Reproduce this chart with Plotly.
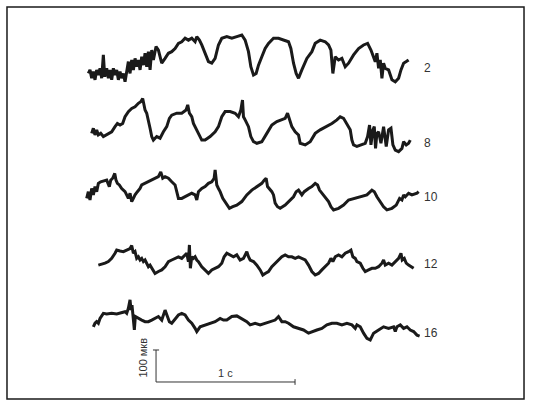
import plotly.graph_objects as go

# EEG traces, time in ms, amplitude in uV
t_2 = [-12, 0, 12, 24, 36, 48, 60, 72, 84, 96, 106, 120, 132, 144, 156, 168, 180, 192, 204, 216,
       228, 240, 252, 264, 276, 288, 300, 312, 324, 336, 348, 360, 372, 384, 396, 408, 420, 432, 444, 456,
       475, 492, 504, 516, 540, 564, 588, 612, 636, 660, 684, 708, 732, 756, 768, 787, 804, 828, 852, 876,
       900, 924, 948, 984, 1020, 1056, 1092, 1116, 1140, 1157, 1176, 1195, 1212, 1236, 1260, 1284, 1320, 1356, 1392, 1428,
       1445, 1464, 1483, 1500, 1524, 1560, 1596, 1620, 1656, 1692, 1716, 1733, 1747, 1764, 1788, 1812, 1836, 1860, 1896, 1932,
       1968, 1997, 2021, 2040, 2052, 2064, 2076, 2088, 2100, 2112, 2124, 2148, 2172, 2196, 2220, 2237, 2256, 2275, 2292]
uv_2 = [-42, -31, -57, -36, -62, -31, -47, -26, -57, 16, -52, -26, -57, -31, -62, -26, -47, -31, -62, -36,
        -57, -42, -68, -31, -5, -42, 0, -31, 5, -21, 0, -31, 10, -16, 21, -21, 26, -31, 31, 0,
        42, 31, 10, -10, 5, 21, 26, 36, 52, 57, 68, 62, 68, 57, 73, 62, 47, 21, -5, -10,
        5, 47, 68, 73, 68, 73, 78, 62, 26, -21, -47, -42, -16, 10, 36, 52, 68, 68, 62, 57,
        36, -10, -42, -57, -31, 5, 26, 52, 62, 57, 47, 31, -42, 10, 0, 5, -21, -10, 16, 36,
        47, 52, 31, 10, -5, 21, -26, 0, -57, -10, -26, -31, -62, -68, -57, -31, -10, -5, 0]

t_8 = [12, 24, 36, 48, 60, 77, 96, 120, 156, 180, 197, 216, 235, 252, 276, 300, 324, 348, 365, 379,
       389, 396, 408, 420, 432, 444, 456, 480, 504, 528, 552, 571, 588, 624, 660, 691, 703, 715, 732, 744,
       763, 780, 804, 828, 864, 900, 924, 948, 972, 1008, 1044, 1068, 1085, 1097, 1104, 1116, 1140, 1157, 1176, 1200,
       1236, 1272, 1308, 1344, 1380, 1404, 1421, 1435, 1452, 1476, 1500, 1512, 1548, 1584, 1620, 1656, 1704, 1740, 1776, 1800,
       1824, 1848, 1872, 1884, 1896, 1920, 1956, 1980, 1997, 2011, 2021, 2035, 2045, 2054, 2064, 2076, 2093, 2112, 2131, 2148,
       2165, 2179, 2196, 2220, 2244, 2256, 2275, 2292, 2304]
uv_8 = [-21, -5, -26, -10, -26, -21, -31, -26, -16, 0, 10, 5, 10, 31, 47, 57, 62, 73, 78, 88,
        68, 52, 42, 21, -5, -31, -42, -31, -36, -16, 0, 26, 36, 42, 42, 52, 68, 42, 31, 10,
        -5, -21, -42, -42, -31, -16, 0, 31, 47, 47, 42, 31, 52, 83, 31, 21, 0, -31, -47, -52,
        -47, -21, 5, 16, 21, 26, 42, 21, 0, -16, -26, -52, -57, -47, -21, -10, 0, 10, 21, 31,
        26, 10, -10, -42, -57, -62, -57, -52, -31, 5, -57, -10, 0, -68, -21, -16, -52, 0, -62, -10,
        -5, -57, -73, -78, -68, -47, -57, -52, -42]

t_10 = [-24, -12, 0, 12, 24, 36, 48, 60, 77, 96, 120, 139, 149, 163, 178, 187, 197, 211, 228, 252,
        264, 276, 288, 300, 312, 324, 341, 360, 372, 396, 420, 444, 468, 492, 509, 523, 540, 564, 588, 612,
        624, 636, 660, 684, 708, 732, 756, 768, 780, 804, 828, 852, 876, 893, 900, 912, 924, 936, 955, 979,
        1003, 1027, 1056, 1092, 1128, 1164, 1200, 1236, 1253, 1267, 1277, 1291, 1308, 1320, 1332, 1349, 1368, 1404, 1440, 1464,
        1483, 1500, 1524, 1541, 1572, 1596, 1620, 1637, 1651, 1668, 1692, 1716, 1733, 1752, 1788, 1824, 1860, 1896, 1944, 1992,
        2028, 2045, 2064, 2088, 2112, 2136, 2172, 2203, 2227, 2244, 2256, 2268, 2292, 2316, 2352, 2364]
uv_10 = [-21, 0, -26, 10, -10, 16, 0, 26, 31, 33, 36, 16, 36, 42, 57, 36, 26, 21, 10, 0,
         -10, -21, -5, -31, -21, -10, 0, 10, 21, 26, 31, 36, 42, 47, 62, 42, 47, 42, 31, 21,
         0, -21, -21, -16, -10, -5, -10, -26, 0, 10, 16, 26, 31, 42, 68, 21, 10, 0, -21, -36,
         -52, -47, -42, -31, -10, 5, 16, 26, 36, 42, 16, 10, 0, -10, -36, -47, -52, -42, -26, -16,
         0, 5, -10, 0, 10, 16, 26, 21, 5, -5, -16, -31, -47, -57, -52, -42, -26, -21, -16, -10,
         5, 0, -16, -31, -47, -57, -52, -42, -21, -26, -10, -16, -5, -10, -5, 0]

t_12 = [60, 84, 108, 132, 156, 180, 192, 216, 240, 264, 288, 300, 312, 324, 336, 348, 360, 372, 384, 396,
        408, 420, 432, 444, 456, 468, 492, 516, 540, 564, 588, 612, 636, 660, 684, 696, 708, 715, 722, 732,
        744, 756, 768, 780, 804, 828, 852, 876, 900, 924, 948, 965, 984, 1008, 1032, 1056, 1080, 1104, 1128, 1140,
        1152, 1176, 1200, 1224, 1243, 1260, 1284, 1308, 1332, 1356, 1380, 1404, 1428, 1452, 1476, 1500, 1524, 1548, 1572, 1596,
        1620, 1644, 1668, 1692, 1716, 1733, 1747, 1764, 1788, 1812, 1836, 1860, 1877, 1891, 1908, 1920, 1944, 1963, 1980, 2004,
        2028, 2052, 2076, 2100, 2112, 2124, 2148, 2172, 2196, 2220, 2237, 2246, 2261, 2275, 2292, 2309, 2328]
uv_12 = [-16, -14, -10, -5, 5, 21, 31, 28, 26, 31, 36, 45, 21, 26, 5, 10, 0, 5, -5, 0,
         -10, -21, -16, -26, -31, -42, -36, -31, -21, -5, 0, 5, 10, 5, 16, 21, -5, 47, -26, 10,
         5, 10, 0, -5, -21, -31, -42, -31, -26, -21, -10, 10, 21, 16, 10, 16, 0, 5, 26, 10,
         0, -5, -16, -31, -47, -42, -36, -21, -10, 0, 10, 16, 10, 10, 5, 10, 5, 0, -16, -36,
         -47, -42, -31, -21, -10, 5, -5, 10, 16, 10, 21, 26, 31, 10, 5, -5, -10, -26, -36, -31,
         -26, -26, -21, -10, 0, -16, -10, -16, -5, 5, 21, 0, 5, -10, -16, -21, -26]

t_16 = [24, 36, 48, 60, 72, 96, 120, 156, 192, 228, 252, 264, 276, 288, 295, 302, 312, 319, 326, 348,
        372, 396, 420, 444, 468, 492, 516, 540, 557, 571, 588, 612, 636, 660, 684, 708, 732, 756, 768, 792,
        828, 864, 900, 936, 960, 984, 1020, 1056, 1092, 1128, 1152, 1188, 1224, 1260, 1296, 1332, 1356, 1380, 1404, 1428,
        1464, 1500, 1536, 1572, 1596, 1632, 1668, 1704, 1740, 1776, 1812, 1848, 1884, 1908, 1920, 1944, 1968, 1992, 2016, 2040,
        2076, 2112, 2148, 2184, 2196, 2208, 2232, 2256, 2280, 2304, 2328, 2352, 2371]
uv_16 = [-16, -5, 0, -5, 10, 26, 24, 26, 24, 28, 31, 26, 42, 68, 36, 52, 5, -26, 16, 10,
         5, 0, 0, 5, 10, 16, 5, 36, 16, 0, -5, 10, 21, 26, 21, 5, -5, -21, -31, -16,
         -10, -5, 0, 10, 5, 5, 16, 18, 10, 0, -10, -5, -10, -5, 0, 5, 16, 0, 0, -5,
         -16, -21, -26, -36, -31, -26, -21, -10, -5, -5, -10, -5, -10, -21, -10, -16, -36, -52, -57, -36,
         -26, -16, -21, -16, -31, -16, -10, -21, -16, -26, -31, -42, -45]

channels = ['2', '8', '10', '12', '16']
times = [t_2, t_8, t_10, t_12, t_16]
values = [uv_2, uv_8, uv_10, uv_12, uv_16]

# vertical placement of each channel (uV below top of page) and its label
offsets = [-187.5, -395.8, -599.0, -812.5, -1005.2]
label_y = [-212.5, -447.0, -616.0, -825.0, -1040.0]

bar_t = [475, 1475]      # 1 s
bar_uv = [-1193.75, -1093.75]  # 100 uV

fig = go.Figure()
for name, t, v, off in zip(channels, times, values, offsets):
    fig.add_trace(go.Scatter(x=t, y=[a + off for a in v], mode='lines',
                             line=dict(color='#1a1a1a', width=3), name=name,
                             hoverinfo='skip'))

# scale bar
fig.add_trace(go.Scatter(x=[bar_t[0], bar_t[0], bar_t[1]], y=[bar_uv[1], bar_uv[0], bar_uv[0]],
                         mode='lines', line=dict(color='#333333', width=1), hoverinfo='skip'))
fig.add_trace(go.Scatter(x=[bar_t[0] - 22, bar_t[0] + 22], y=[bar_uv[1], bar_uv[1]],
                         mode='lines', line=dict(color='#333333', width=1), hoverinfo='skip'))
fig.add_trace(go.Scatter(x=[bar_t[1], bar_t[1]], y=[bar_uv[0] - 9, bar_uv[0] + 9],
                         mode='lines', line=dict(color='#333333', width=1), hoverinfo='skip'))

annotations = []
for name, ly in zip(channels, label_y):
    annotations.append(dict(x=2388, y=ly, text=name, showarrow=False, xanchor='left',
                            font=dict(size=12, color='#333333')))
annotations.append(dict(x=(bar_t[0] + bar_t[1]) / 2, y=bar_uv[0] + 28, text='1 с', showarrow=False,
                        font=dict(size=11, color='#333333')))
annotations.append(dict(x=bar_t[0] - 92, y=(bar_uv[0] + bar_uv[1]) / 2 + 27, text='100 мкв', showarrow=False,
                        textangle=-90, font=dict(size=11, color='#333333')))

fig.update_layout(
    width=534, height=403,
    margin=dict(l=0, r=0, t=0, b=0),
    paper_bgcolor='white', plot_bgcolor='white',
    showlegend=False,
    font=dict(family='Liberation Sans, Arial, sans-serif'),
    xaxis=dict(range=[-647.5, 3194], visible=False),
    yaxis=dict(range=[-1259.4, 0], visible=False),
    annotations=annotations,
    shapes=[dict(type='rect', xref='paper', yref='paper', x0=0.0131, x1=0.9813, y0=0.0099, y1=0.9826,
                 line=dict(color='#1a1a1a', width=1.5))],
)

# page body has a default margin; drop it so the figure sits at the window origin
fig.write_html("out.html", config=dict(displayModeBar=False),
               post_script="document.body.style.margin='0';")
